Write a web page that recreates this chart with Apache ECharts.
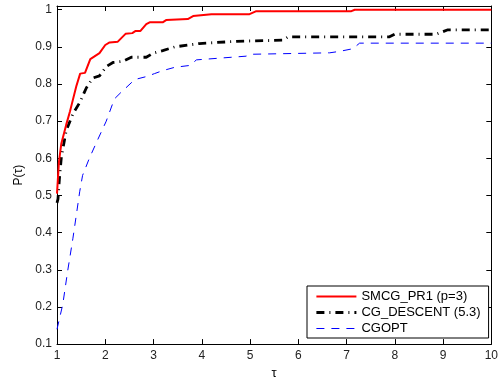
<!DOCTYPE html>
<html>
<head>
<meta charset="utf-8">
<script src="https://cdn.jsdelivr.net/npm/echarts@6/dist/echarts.min.js"></script>
<style>
html,body{margin:0;padding:0;background:#fff;}
#c{width:501px;height:385px;}
</style>
</head>
<body>
<div id="c"></div>
<script>
const seriesNames = ['SMCG_PR1 (p=3)', 'CG_DESCENT (5.3)', 'CGOPT'];

const smcgTau = [1, 1.04, 1.09, 1.19, 1.27, 1.33, 1.40, 1.48, 1.58, 1.69, 1.88, 2.0, 2.09, 2.26, 2.42, 2.56, 2.63, 2.73, 2.85, 2.92, 3.19, 3.26, 3.71, 3.82, 4.2, 4.99, 5.13, 7.1, 7.17, 10];
const smcgP   = [0.505, 0.59, 0.64, 0.69, 0.727, 0.758, 0.794, 0.828, 0.83, 0.867, 0.883, 0.905, 0.912, 0.914, 0.935, 0.937, 0.943, 0.943, 0.961, 0.966, 0.966, 0.972, 0.975, 0.983, 0.988, 0.988, 0.996, 0.996, 1.0, 1.0];

const cgdTau = [1, 1.02, 1.05, 1.09, 1.19, 1.33, 1.47, 1.61, 1.74, 1.88, 2.02, 2.16, 2.36, 2.54, 2.85, 2.99, 3.19, 3.44, 3.95, 4.72, 5.68, 5.79, 7.89, 8.0, 8.86, 9.1, 10];
const cgdP   = [0.48, 0.49, 0.545, 0.603, 0.674, 0.72, 0.75, 0.79, 0.816, 0.822, 0.847, 0.858, 0.861, 0.872, 0.872, 0.883, 0.89, 0.90, 0.909, 0.915, 0.918, 0.927, 0.927, 0.934, 0.934, 0.946, 0.946];

const cgoptTau = [1, 1.12, 1.22, 1.33, 1.40, 1.47, 1.53, 1.67, 1.85, 2.02, 2.19, 2.33, 2.43, 2.61, 2.85, 3.02, 3.19, 3.44, 3.75, 3.89, 4.92, 4.99, 6.65, 6.86, 7.13, 7.27, 10];
const cgoptP   = [0.14, 0.207, 0.296, 0.385, 0.447, 0.51, 0.554, 0.6, 0.652, 0.7, 0.76, 0.778, 0.79, 0.812, 0.82, 0.828, 0.836, 0.845, 0.85, 0.865, 0.875, 0.88, 0.884, 0.888, 0.895, 0.91, 0.91];

const xTicks = [1, 2, 3, 4, 5, 6, 7, 8, 9, 10];
const yTicks = [0.1, 0.2, 0.3, 0.4, 0.5, 0.6, 0.7, 0.8, 0.9, 1];
const yTickLabels = ['0.1', '0.2', '0.3', '0.4', '0.5', '0.6', '0.7', '0.8', '0.9', '1'];

const FONT = 'Liberation Sans, Arial, Helvetica, sans-serif';
const zip = (a, b) => a.map((v, i) => [v, b[i]]);

const lineStyles = [
  {color: '#ff0000', width: 2, type: 'solid'},
  {color: '#000000', width: 2.8, type: [8, 5, 1, 5]},
  {color: '#0000ff', width: 1, type: [8, 7]}
];

const chart = echarts.init(document.getElementById('c'), null, {renderer: 'canvas'});

const axisLine = {show: true, onZero: false, lineStyle: {color: '#000', width: 1}};
const axisTickBase = {show: true, inside: true, length: 5, lineStyle: {color: '#000', width: 1}};

chart.setOption({
  animation: false,
  backgroundColor: '#fff',
  grid: {left: 57, right: 9, top: 6, bottom: 38, containLabel: false},
  xAxis: [
    {
      type: 'value', min: 1, max: 10, position: 'bottom',
      name: 'τ', nameLocation: 'middle', nameGap: 20,
      nameTextStyle: {color: '#000', fontSize: 13, fontFamily: FONT},
      axisLine: axisLine,
      axisTick: Object.assign({}, axisTickBase, {customValues: xTicks}),
      axisLabel: {color: '#222', fontSize: 12, fontFamily: FONT, margin: 6, customValues: xTicks},
      splitLine: {show: false}
    },
    {
      type: 'value', min: 1, max: 10, position: 'top',
      axisLine: axisLine,
      axisTick: Object.assign({}, axisTickBase, {customValues: xTicks}),
      axisLabel: {show: false},
      splitLine: {show: false}
    }
  ],
  yAxis: [
    {
      type: 'value', min: 0.1, max: 1.01, position: 'left',
      name: 'P(τ)', nameLocation: 'middle', nameGap: 27, nameRotate: 90,
      nameTextStyle: {color: '#000', fontSize: 12, fontFamily: FONT},
      axisLine: axisLine,
      axisTick: Object.assign({}, axisTickBase, {customValues: yTicks}),
      axisLabel: {
        color: '#222', fontSize: 12, fontFamily: FONT, margin: 5, customValues: yTicks,
        formatter: function (v) {
          const i = yTicks.findIndex(t => Math.abs(t - v) < 1e-6);
          return i >= 0 ? yTickLabels[i] : '';
        }
      },
      splitLine: {show: false}
    },
    {
      type: 'value', min: 0.1, max: 1.01, position: 'right',
      axisLine: axisLine,
      axisTick: Object.assign({}, axisTickBase, {customValues: yTicks}),
      axisLabel: {show: false},
      splitLine: {show: false}
    }
  ],
  legend: {
    orient: 'vertical',
    left: 307, top: 286,
    padding: [4, 8, 3, 8],
    itemWidth: 40, itemHeight: 14, itemGap: 3,
    backgroundColor: '#fff',
    borderColor: '#000', borderWidth: 1, borderRadius: 0,
    itemStyle: {color: 'rgba(0,0,0,0)', borderWidth: 0, opacity: 0},
    textStyle: {color: '#000', fontSize: 13, fontFamily: FONT},
    data: seriesNames.map((n, i) => ({name: n, lineStyle: {width: lineStyles[i].width, type: lineStyles[i].type, color: lineStyles[i].color}}))
  },
  series: seriesNames.map((n, i) => ({
    name: n, type: 'line', xAxisIndex: 0, yAxisIndex: 0,
    data: [zip(smcgTau, smcgP), zip(cgdTau, cgdP), zip(cgoptTau, cgoptP)][i],
    symbol: 'none', showSymbol: false,
    lineStyle: lineStyles[i],
    itemStyle: {color: lineStyles[i].color},
    z: 5 - i
  }))
});
</script>
</body>
</html>
